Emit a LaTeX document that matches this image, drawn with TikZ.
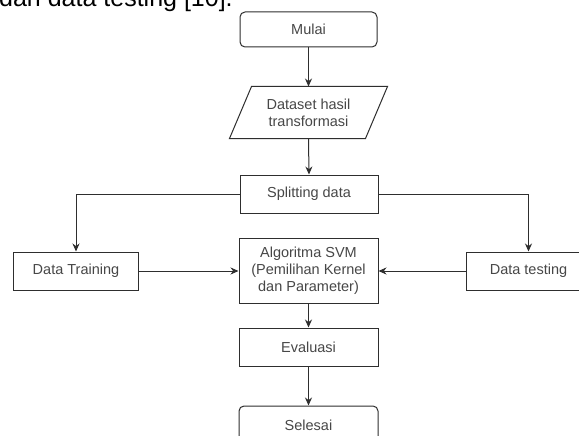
\documentclass[tikz,border=0pt]{standalone}
\usepackage{fontspec}
\setmainfont{Liberation Sans}
\usetikzlibrary{arrows.meta,calc}
\definecolor{linec}{HTML}{2E2E2E}
\definecolor{txtc}{HTML}{474747}
\begin{document}
\begin{tikzpicture}[x=1pt,y=-1pt,
  box/.style={draw=linec, line width=1pt, minimum width=139pt, minimum height=38pt, inner sep=0pt, text=txtc, font=\fontsize{14.5}{17}\selectfont, align=center},
  term/.style={box, rounded corners=5pt},
  arr/.style={draw=linec, line width=1pt, -{Stealth[length=8pt,width=7pt]}}]
\useasboundingbox (0,0) rectangle (579,436);
\fill[white] (0,0) rectangle (579,436);
\clip (0,0) rectangle (579,436);
\node[anchor=base west, font=\fontsize{25}{30}\selectfont, text=black, inner sep=0pt] (cap) at (-1,7) {dan data testing [10].};
\node[term, minimum width=137pt, minimum height=35pt] (mulai) at (308.5,29.5) {Mulai};
\node[box, draw=none, minimum width=135pt, minimum height=51pt] (data) at (308.5,112.5) {Dataset hasil\\transformasi};
\draw[linec, line width=1pt] ($(data.north west)+(11,0)$) -- ($(data.north east)+(11,0)$) -- ($(data.south east)+(-11,0)$) -- ($(data.south west)+(-11,0)$) -- cycle;
\node[box, minimum width=138pt] (split) at (309,194) {Splitting data};
\node[box, minimum height=65pt] (svm) at (308.5,270.5) {Algoritma SVM\\(Pemilihan Kernel\\dan Parameter)};
\node[box, minimum width=125pt] (train) at (76,271) {Data Training};
\node[box, minimum width=125pt] (test) at (528.5,271) {Data testing};
\node[box] (eval) at (308.5,347) {Evaluasi};
\node[term] (selesai) at (308.5,425) {Selesai};
\draw[arr] (mulai.south) -- (data.north);
\draw[arr] (data.south) -- (split.north);
\draw[arr] (split.west) -| (train.north);
\draw[arr] (split.east) -| (test.north);
\draw[arr] (train.east) -- (train.east -| svm.west);
\draw[arr] (test.west) -- (test.west -| svm.east);
\draw[arr] (svm.south) -- (eval.north);
\draw[arr] (eval.south) -- (selesai.north);
\end{tikzpicture}
\end{document}
